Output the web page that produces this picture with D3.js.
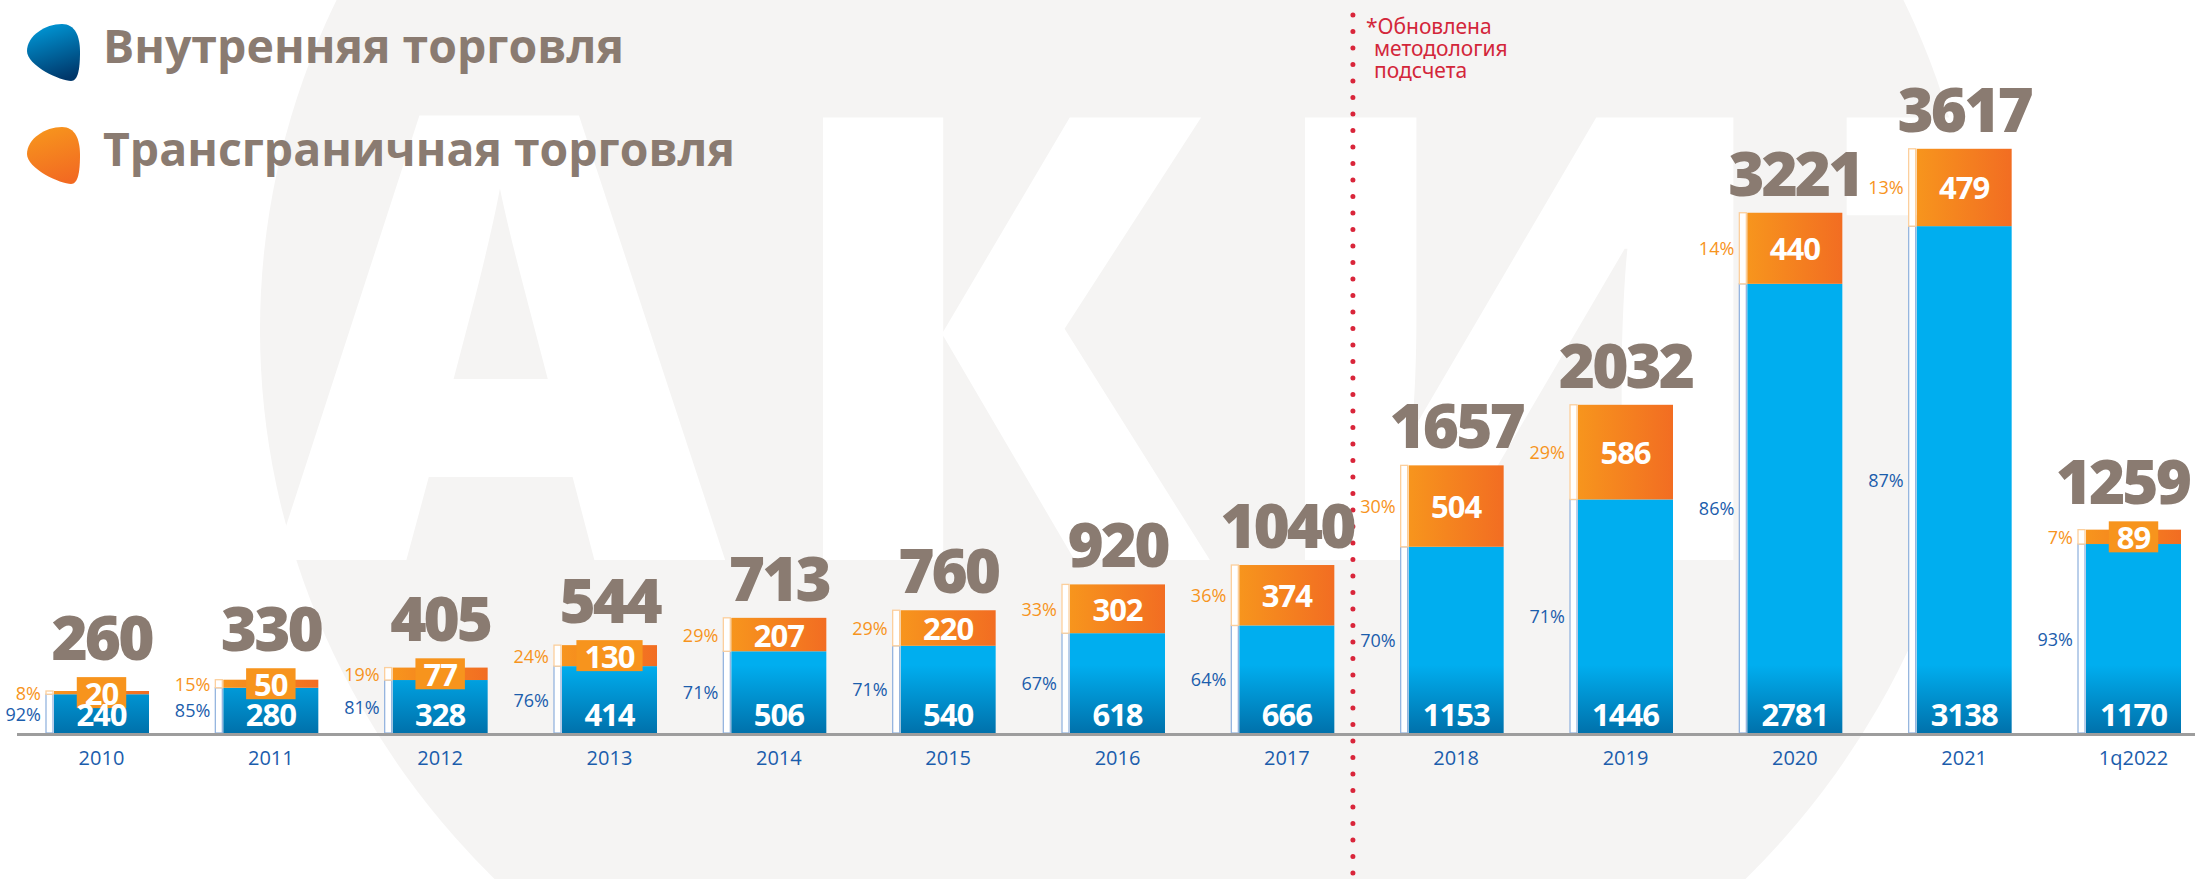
<!DOCTYPE html>
<html>
<head>
<meta charset="utf-8">
<script src="https://cdnjs.cloudflare.com/ajax/libs/d3/7.8.5/d3.min.js"></script>
<style>
body { margin: 0; background: #fff; overflow: hidden; }
svg { display: block; }
</style>
</head>
<body>
<script>
var width = 2195,
    height = 879;

// data
var years = ["2010", "2011", "2012", "2013", "2014", "2015", "2016", "2017", "2018", "2019", "2020", "2021", "1q2022"];
var domestic = [240, 280, 328, 414, 506, 540, 618, 666, 1153, 1446, 2781, 3138, 1170];
var crossBorder = [20, 50, 77, 130, 207, 220, 302, 374, 504, 586, 440, 479, 89];
var totals = [260, 330, 405, 544, 713, 760, 920, 1040, 1657, 2032, 3221, 3617, 1259];
var domesticPct = [92, 85, 81, 76, 71, 71, 67, 64, 70, 71, 86, 87, 93];
var crossPct = [8, 15, 19, 24, 29, 29, 33, 36, 30, 29, 14, 13, 7];
var legendLabels = ["Внутренняя торговля", "Трансграничная торговля"];
var noteLines = ["*Обновлена", "методология", "подсчета"];
var splitYear = "2017";

var baseY = 733;
var brown = "#8a7b71",
    blueText = "#1b5dac",
    orangeText = "#f7941d";

var svg = d3.select("body").append("svg")
    .attr("width", width)
    .attr("height", height);

var defs = svg.append("defs");

// blue bar: flat cyan, darkening near the axis
var gBlue = defs.append("linearGradient").attr("id", "blueBar")
    .attr("gradientUnits", "userSpaceOnUse")
    .attr("x1", 0).attr("x2", 0).attr("y1", baseY - 68).attr("y2", baseY);
gBlue.append("stop").attr("offset", "0%").attr("stop-color", "#00aeef");
gBlue.append("stop").attr("offset", "100%").attr("stop-color", "#0071ab");

var gOrange = defs.append("linearGradient").attr("id", "orangeBar")
    .attr("x1", "0%").attr("x2", "100%").attr("y1", "0%").attr("y2", "0%");
gOrange.append("stop").attr("offset", "0%").attr("stop-color", "#f7951d");
gOrange.append("stop").attr("offset", "100%").attr("stop-color", "#f26d22");

var gBlob1 = defs.append("linearGradient").attr("id", "blobBlue")
    .attr("x1", "30%").attr("x2", "60%").attr("y1", "0%").attr("y2", "100%");
gBlob1.append("stop").attr("offset", "0%").attr("stop-color", "#0097d6");
gBlob1.append("stop").attr("offset", "100%").attr("stop-color", "#00376a");

var gBlob2 = defs.append("linearGradient").attr("id", "blobOrange")
    .attr("x1", "30%").attr("x2", "60%").attr("y1", "0%").attr("y2", "100%");
gBlob2.append("stop").attr("offset", "0%").attr("stop-color", "#f7951d");
gBlob2.append("stop").attr("offset", "100%").attr("stop-color", "#f26a22");

// faint logo watermark in the background
var bg = svg.append("g");
bg.append("ellipse")
    .attr("cx", 1120).attr("cy", 330).attr("rx", 860).attr("ry", 800)
    .attr("fill", "#f5f4f3");
bg.append("text")
    .attr("x", 275).attr("y", 560)
    .attr("letter-spacing", 50)
    .style("font-family", "'Open Sans', sans-serif")
    .style("font-weight", 800)
    .style("font-size", "620px")
    .attr("fill", "#fff")
    .text("АКИТ");

var x = d3.scaleBand()
    .domain(years)
    .range([54, 2181])
    .paddingInner(0.439)
    .paddingOuter(0);

var y = d3.scaleLinear()
    .domain([0, 3950])
    .range([baseY, 95]);

var bw = x.bandwidth();

// red dotted separator
var sepX = x(splitYear) + bw + (x.step() - bw) * 0.25;
svg.append("line")
    .attr("x1", sepX).attr("x2", sepX)
    .attr("y1", 15).attr("y2", height)
    .attr("stroke", "#d9253a")
    .attr("stroke-width", 5)
    .attr("stroke-linecap", "round")
    .attr("stroke-dasharray", "0 16.5");

svg.append("g").selectAll("text")
    .data(noteLines).enter().append("text")
    .attr("x", function(d, i) { return sepX + (i == 0 ? 13 : 21); })
    .attr("y", function(d, i) { return 34 + i * 22; })
    .style("font-family", "'Noto Sans', sans-serif")
    .style("font-size", "21px")
    .attr("fill", "#d3263a")
    .text(function(d) { return d; });

// legend
var blobPath = "M35,0 C48,0 53,12 53,28 C53,45 51,57 44,57 C34,57 0,42 0,27 C0,12 18,0 35,0 Z";
var legend = svg.append("g").selectAll("g")
    .data(legendLabels).enter().append("g")
    .attr("transform", function(d, i) { return "translate(27," + (24 + i * 103) + ")"; });
legend.append("path")
    .attr("d", blobPath)
    .attr("fill", function(d, i) { return i == 0 ? "url(#blobBlue)" : "url(#blobOrange)"; });
legend.append("text")
    .attr("x", 76).attr("y", 39)
    .attr("textLength", function(d, i) { return i == 0 ? 521 : 632; })
    .attr("lengthAdjust", "spacingAndGlyphs")
    .style("font-family", "'Open Sans', sans-serif")
    .style("font-weight", 700)
    .style("font-size", "47px")
    .attr("fill", brown)
    .text(function(d) { return d; });

// bars
var bars = svg.append("g").selectAll("g")
    .data(years).enter().append("g");

bars.each(function(yr, i) {
    var g = d3.select(this);
    var xl = x(yr), cx = xl + bw / 2;
    var yb = y(domestic[i]);
    var yt = y(domestic[i] + crossBorder[i]);

    g.append("rect")
        .attr("x", xl).attr("y", yb)
        .attr("width", bw).attr("height", baseY - yb)
        .attr("fill", "url(#blueBar)");
    g.append("rect")
        .attr("x", xl).attr("y", yt)
        .attr("width", bw).attr("height", yb - yt)
        .attr("fill", "url(#orangeBar)");

    // share brackets
    g.append("rect")
        .attr("x", xl - 8).attr("y", yb)
        .attr("width", 7).attr("height", baseY - yb)
        .attr("fill", "#fff").attr("stroke", "#95b5df").attr("stroke-width", 1.3);
    g.append("rect")
        .attr("x", xl - 8).attr("y", yt)
        .attr("width", 7).attr("height", yb - yt)
        .attr("fill", "#fff").attr("stroke", "#fccf9c").attr("stroke-width", 1.3);

    g.append("text")
        .attr("x", xl - 13).attr("y", (yb + baseY) / 2)
        .attr("text-anchor", "end").attr("dominant-baseline", "central")
        .style("font-family", "'Open Sans', sans-serif")
        .style("font-size", "18px")
        .attr("fill", blueText)
        .text(domesticPct[i] + "%");
    g.append("text")
        .attr("x", xl - 13).attr("y", (yt + yb) / 2)
        .attr("text-anchor", "end").attr("dominant-baseline", "central")
        .style("font-family", "'Open Sans', sans-serif")
        .style("font-size", "18px")
        .attr("fill", orangeText)
        .text(crossPct[i] + "%");

    // cross-border value (boxed when the segment is too thin)
    var oc = (yt + yb) / 2;
    var boxed = (yb - yt) < 26;
    var box = g.append("rect");
    var ot = g.append("text")
        .attr("x", cx).attr("y", oc)
        .attr("text-anchor", "middle").attr("dominant-baseline", "central")
        .attr("letter-spacing", -1)
        .style("font-family", "'Open Sans', sans-serif")
        .style("font-weight", 700)
        .style("font-size", "31px")
        .attr("fill", "#fff")
        .text(crossBorder[i]);
    var top = yt;
    if (boxed) {
        var tw = ot.node().getComputedTextLength() + 16;
        box.attr("x", cx - tw / 2).attr("y", oc - 15.5)
            .attr("width", tw).attr("height", 31)
            .attr("fill", "#f7941d");
        top = oc - 15.5;
    } else {
        box.remove();
    }

    g.append("text")
        .attr("x", cx).attr("y", baseY - 7)
        .attr("text-anchor", "middle")
        .attr("letter-spacing", -1)
        .style("font-family", "'Open Sans', sans-serif")
        .style("font-weight", 700)
        .style("font-size", "31px")
        .attr("fill", "#fff")
        .text(domestic[i]);

    var tt = g.append("text")
        .attr("x", cx).attr("y", top - 17)
        .attr("text-anchor", "middle")
        .attr("letter-spacing", -3)
        .style("font-family", "'Open Sans', sans-serif")
        .style("font-weight", 800)
        .style("font-size", "62px")
        .attr("fill", brown)
        .text(totals[i]);
    // keep the total inside the picture
    var tl = tt.node().getComputedTextLength();
    if (cx + tl / 2 > width - 6) tt.attr("x", width - 6 - tl / 2);
});

// axis line and year labels
svg.append("line")
    .attr("x1", 17).attr("x2", width)
    .attr("y1", baseY + 1.5).attr("y2", baseY + 1.5)
    .attr("stroke", "#9d9d9d").attr("stroke-width", 3);

var xAxis = d3.axisBottom(x).tickSize(0).tickPadding(18);
var ax = svg.append("g")
    .attr("transform", "translate(0," + baseY + ")")
    .call(xAxis);
ax.select(".domain").remove();
ax.selectAll("text")
    .style("font-family", "'Open Sans', sans-serif")
    .style("font-size", "20px")
    .attr("fill", blueText);
</script>
</body>
</html>
